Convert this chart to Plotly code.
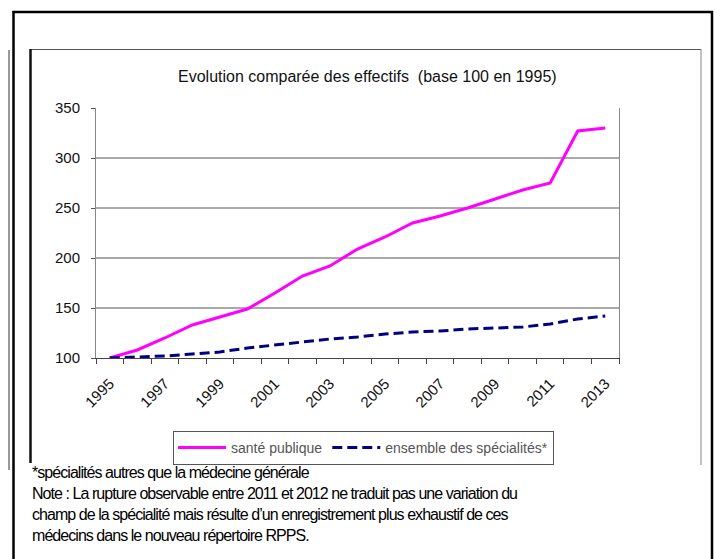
import plotly.graph_objects as go

# Years on the horizontal axis and the two indexed series (base 100 in 1995)
years = [1995, 1996, 1997, 1998, 1999, 2000, 2001, 2002, 2003, 2004,
         2005, 2006, 2007, 2008, 2009, 2010, 2011, 2012, 2013]
sante_publique = [100, 108, 120, 133, 141, 149, 165, 182, 192, 209,
                  221, 235, 242, 250, 259, 268, 275, 327, 330]
ensemble_specialites = [100, 101, 102, 104, 106, 110, 113, 116, 119, 121,
                        124, 126, 127, 129, 130, 131, 134, 139, 142]

year_labels = ["1995", "1997", "1999", "2001", "2003",
               "2005", "2007", "2009", "2011", "2013"]
y_ticks = [100, 150, 200, 250, 300, 350]
grid_levels = [150, 200, 250, 300]

title_text = "Evolution comparée des effectifs  (base 100 en 1995)"
notes = [
    "*spécialités autres que la médecine générale",
    "Note : La rupture observable entre 2011 et 2012 ne traduit pas une variation du",
    "champ de la spécialité mais résulte d\u2019un enregistrement plus exhaustif de ces",
    "médecins dans le nouveau répertoire RPPS.",
]

W, H = 721, 559
PL, PR, PT, PB = 96, 619, 108, 358  # plot area in pixels


def px(x):
    return (x - PL) / (PR - PL)


def py(y):
    return (PB - y) / (PB - PT)


FONT = "Liberation Sans, Arial, sans-serif"

fig = go.Figure()
fig.add_trace(go.Scatter(
    x=years, y=sante_publique, mode="lines", name="santé publique",
    legendgroup="sante",
    line=dict(color="#FF00FF", width=3),
))
fig.add_trace(go.Scatter(
    x=years, y=ensemble_specialites, mode="lines",
    name="ensemble des spécialités*", legendgroup="ensemble",
    line=dict(color="#000080", width=3, dash="10px,5px"),
))

shapes = []
# horizontal gridlines
for g in grid_levels:
    shapes.append(dict(type="line", xref="paper", yref="y", x0=0, x1=1,
                       y0=g, y1=g, line=dict(color="#555555", width=1),
                       layer="below"))


def seg(x0, y0, x1, y1, color, width):
    shapes.append(dict(type="line", xref="paper", yref="paper",
                       x0=px(x0), y0=py(y0), x1=px(x1), y1=py(y1),
                       line=dict(color=color, width=width)))


# page frame
seg(12.5, 12, 713, 12, "#000000", 2.5)
seg(13.5, 11, 13.5, 559, "#000000", 2.5)
seg(712, 11, 712, 559, "#000000", 2.5)
seg(9, 50, 9, 470, "#333333", 1)
# chart box
seg(30, 49.5, 701, 49.5, "#555555", 1)
seg(30.5, 49, 30.5, 463, "#111111", 2.5)
seg(701, 49, 701, 465, "#888888", 1)

annotations = [dict(
    text=title_text, xref="paper", yref="paper", x=px(367), y=py(76),
    xanchor="center", yanchor="middle", showarrow=False,
    font=dict(family=FONT, size=16, color="#111111"),
)]
for i, line in enumerate(notes):
    annotations.append(dict(
        text='<span style="letter-spacing:-0.95px">' + line + "</span>",
        xref="paper", yref="paper", x=px(30), y=py(472 + 21 * i),
        xanchor="left", yanchor="middle", showarrow=False,
        font=dict(family=FONT, size=16, color="#000000"),
    ))

fig.update_layout(
    width=W, height=H,
    margin=dict(l=PL, r=W - PR, t=PT, b=H - PB),
    paper_bgcolor="white", plot_bgcolor="white",
    font=dict(family=FONT, size=15, color="#111111"),
    showlegend=True,
    legend=dict(
        orientation="h", x=px(173), y=py(431), xanchor="left", yanchor="top",
        bordercolor="#555555", borderwidth=1,
        font=dict(family=FONT, size=14, color="#555555"),
        itemwidth=48,
        tracegroupgap=25,
    ),
    shapes=shapes,
    annotations=annotations,
    xaxis=dict(
        range=[1994.5, 2013.5],
        tickmode="array",
        tickvals=[int(v) for v in year_labels],
        ticktext=year_labels,
        tickangle=-45,
        ticks="outside", ticklen=0,
        ticklabelstandoff=10,
        showgrid=False, zeroline=False,
        showline=True, linecolor="#444444", linewidth=1,
        minor=dict(tickmode="linear", tick0=1994.5, dtick=1,
                   ticks="outside", ticklen=5, tickcolor="#444444",
                   tickwidth=1, showgrid=False),
        tickfont=dict(family=FONT, size=15, color="#111111"),
    ),
    yaxis=dict(
        range=[100, 350],
        tickmode="array", tickvals=y_ticks,
        ticks="outside", ticklen=4, tickcolor="#555555",
        ticklabelstandoff=8,
        showgrid=False, zeroline=False,
        showline=True, mirror=True, linecolor="#888888", linewidth=1,
        tickfont=dict(family=FONT, size=15, color="#111111"),
    ),
)

fig.write_html("out.html")
